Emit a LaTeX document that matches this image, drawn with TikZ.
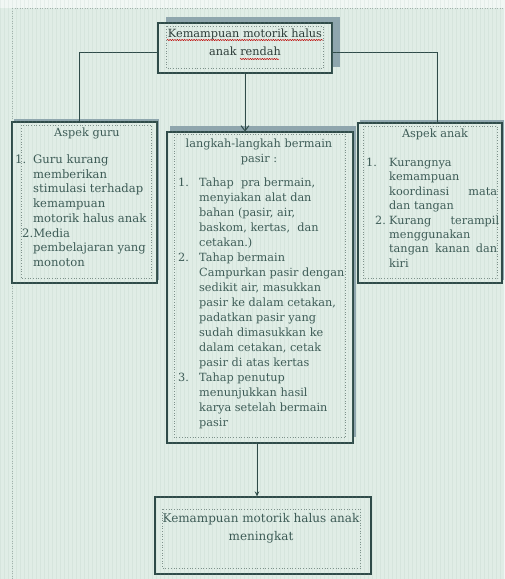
\documentclass[tikz,border=0pt]{standalone}
\usepackage{fontspec}
\setmainfont{DejaVu Serif}
\usetikzlibrary{arrows.meta,decorations.pathmorphing,calc,shadows}
\definecolor{bgc}{HTML}{E0EDE6}
\definecolor{gridc}{HTML}{8FB2A3}
\definecolor{linec}{HTML}{2F4B49}
\definecolor{txtc}{HTML}{3C5A55}
\definecolor{toptxt}{HTML}{2B3A36}
\definecolor{shadc}{HTML}{8FA6AE}
\definecolor{dotc}{HTML}{7E918B}
\begin{document}
\begin{tikzpicture}[x=1pt,y=-1pt,
  box/.style={draw=linec, line width=1.1pt, fill=bgc, rectangle, inner sep=0pt},
  innerbox/.style={draw=dotc, dotted, line width=0.7pt},
  txt/.style={inner sep=0pt, anchor=north west, align=left, text=txtc},
  ttl/.style={inner sep=0pt, align=center, text=txtc, font=\fontsize{11.3}{15}\selectfont},
  conn/.style={draw=linec, line width=1pt},
  squig/.style={draw=red!75!black, line width=0.5pt, decorate, decoration={snake, amplitude=0.6pt, segment length=2.4pt}}
]
\useasboundingbox (0,0) rectangle (504,579);
\fill[bgc] (0,0) rectangle (504,579);
\fill[bgc!45!white] (0,0) rectangle (504,8);
\draw[dotc!70, dotted, line width=0.5pt] (12,8) -- (12,579);
\draw[dotc!70, dotted, line width=0.5pt] (12,8) -- (504,8);

% boxes
\node[box, drop shadow={shadow xshift=8pt, shadow yshift=6pt, fill=shadc, opacity=1}, minimum width=174pt, minimum height=50pt] (top) at (245,48) {};
\node[box, drop shadow={shadow xshift=2pt, shadow yshift=3pt, fill=shadc, opacity=1}, minimum width=145pt, minimum height=161pt] (left) at (84.5,202.5) {};
\node[box, drop shadow={shadow xshift=3pt, shadow yshift=6pt, fill=shadc, opacity=1}, minimum width=186pt, minimum height=311pt] (mid) at (260,287.5) {};
\node[box, drop shadow={shadow xshift=2pt, shadow yshift=3pt, fill=shadc, opacity=1}, minimum width=144pt, minimum height=160pt] (right) at (430,203) {};
\node[box, minimum width=216pt, minimum height=77pt] (bot) at (263,535.5) {};

% inner dotted frames
\draw[innerbox] ($(top.north west)+(9,4)$) rectangle ($(top.south east)+(-9,-5)$);
\draw[innerbox] ($(left.north west)+(10,4)$) rectangle ($(left.south east)+(-6,-5)$);
\draw[innerbox] ($(mid.north west)+(8,3)$) rectangle ($(mid.south east)+(-8,-6)$);
\draw[innerbox] ($(right.north west)+(6,4)$) rectangle ($(right.south east)+(-5,-5)$);
\draw[innerbox] ($(bot.north west)+(8,13)$) rectangle ($(bot.south east)+(-11,-6)$);

% connectors
\draw[conn] ([yshift=-4pt]top.west) -| ([xshift=-5.5pt]left.north);
\draw[conn] ([yshift=-4pt]top.east) -| ([xshift=7pt]right.north);
\draw[conn, -{Straight Barb[length=5pt,width=8pt]}] (top.south) -- (top.south |- mid.north);
\draw[conn, -{Stealth[length=5pt,width=4.5pt]}] ([xshift=-3pt]mid.south) -- ([xshift=-3pt]mid.south |- bot.north);

% texts
\node[inner sep=0pt, align=center, text=toptxt, font=\fontsize{11.3}{18.4}\selectfont] (toptext) at (245,42.5) {Kemampuan motorik halus\\anak rendah};
\draw[squig] (167,40) -- (323,40);
\draw[squig] (240,59) -- (279,59);

\node[ttl] (lefttitle) at (87,133) {Aspek guru};
\node[txt, font=\fontsize{11.6}{14.7}\selectfont] (lefttext) at (15,153.1) {\strut\makebox[18pt][l]{1.}Guru kurang\\
\hspace*{18pt}memberikan\\
\hspace*{18pt}stimulasi terhadap\\
\hspace*{18pt}kemampuan\\
\hspace*{18pt}motorik halus anak\\
\hspace*{7pt}2.Media\\
\hspace*{18pt}pembelajaran yang\\
\hspace*{18pt}monoton};

\node[ttl] (midtitle) at (259,151.5) {langkah-langkah bermain\\pasir :};
\node[txt, font=\fontsize{11.3}{15}\selectfont] (midtext) at (178,176.1) {\strut\makebox[21pt][l]{1.}Tahap\ \ pra bermain,\\
\hspace*{21pt}menyiakan alat dan\\
\hspace*{21pt}bahan (pasir, air,\\
\hspace*{21pt}baskom, kertas,\ \ dan\\
\hspace*{21pt}cetakan.)\\
\makebox[21pt][l]{2.}Tahap bermain\\
\hspace*{21pt}Campurkan pasir dengan\\
\hspace*{21pt}sedikit air, masukkan\\
\hspace*{21pt}pasir ke dalam cetakan,\\
\hspace*{21pt}padatkan pasir yang\\
\hspace*{21pt}sudah dimasukkan ke\\
\hspace*{21pt}dalam cetakan, cetak\\
\hspace*{21pt}pasir di atas kertas\\
\makebox[21pt][l]{3.}Tahap penutup\\
\hspace*{21pt}menunjukkan hasil\\
\hspace*{21pt}karya setelah bermain\\
\hspace*{21pt}pasir};

\node[ttl] (righttitle) at (435,134) {Aspek anak};
\node[txt, font=\fontsize{11.3}{14.43}\selectfont] (righttext) at (366,156.1) {\strut\makebox[23pt][l]{1.}Kurangnya\\
\hspace*{23pt}kemampuan\\
\hspace*{23pt}\makebox[108pt][s]{koordinasi mata}\\
\hspace*{23pt}dan tangan\\
\hspace*{9pt}\makebox[14pt][l]{2.}\makebox[110pt][s]{Kurang terampil}\\
\hspace*{23pt}menggunakan\\
\hspace*{23pt}\makebox[108pt][s]{tangan kanan dan}\\
\hspace*{23pt}kiri};

\node[inner sep=0pt, align=center, text=txtc, font=\fontsize{12}{18}\selectfont] (bottext) at (261,528) {Kemampuan motorik halus anak\\meningkat};

% screen texture
\draw[gridc, line width=0.2pt, opacity=0.12, step=4] (0,0) grid (504,579);
\end{tikzpicture}
\end{document}
